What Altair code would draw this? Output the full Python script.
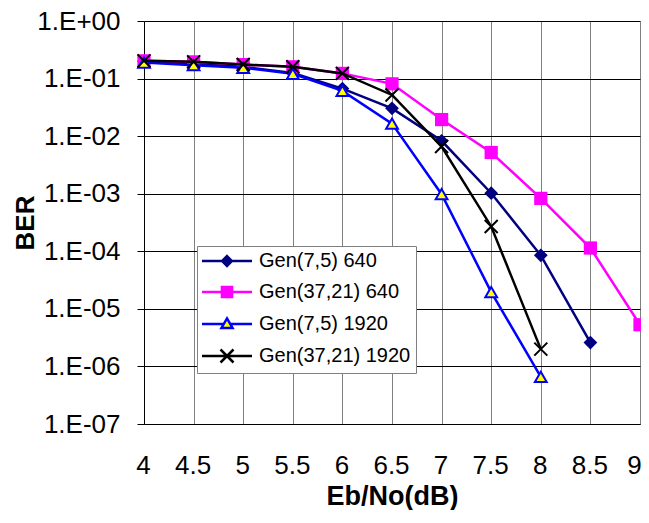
import altair as alt
import pandas as pd

# ---- data ----
ebno = [4, 4.5, 5, 5.5, 6, 6.5, 7, 7.5, 8, 8.5, 9]
series_names = ["Gen(7,5) 640", "Gen(37,21) 640", "Gen(7,5) 1920", "Gen(37,21) 1920"]
ber_75_640 = [0.2, 0.18, 0.16, 0.125, 0.067, 0.0304, 0.0083, 0.00102, 8.5e-5, 2.6e-6]
ber_3721_640 = [0.203, 0.195, 0.175, 0.16, 0.123, 0.081, 0.0194, 0.0052, 8.3e-4, 1.14e-4, 5.3e-6]
ber_75_1920 = [0.19, 0.171, 0.154, 0.121, 0.061, 0.0165, 0.00098, 1.96e-5, 6.6e-7]
ber_3721_1920 = [0.203, 0.195, 0.175, 0.16, 0.123, 0.052, 0.0066, 0.00027, 2.0e-6]
y_ticks = [1e-7, 1e-6, 1e-5, 1e-4, 1e-3, 1e-2, 1e-1, 1.0]
x_ticks = [4, 4.5, 5, 5.5, 6, 6.5, 7, 7.5, 8, 8.5, 9]

# ---- styles ----
line_colors = ["#000080", "#FF00FF", "#0000FF", "#000000"]
fill_colors = ["#000080", "#FF00FF", "#FFFF00", "#000000"]
plot_shapes = ["diamond", "square", "triangle-up", "M-1,-1L1,1M-1,1L1,-1"]
plot_sizes = [190, 175, 140, 169]
plot_filled = [True, True, True, False]
plot_sw = [0, 0, 2, 2]
legend_shapes = [
    "M-3.85,0L3.85,0M0,-0.75L0.75,0L0,0.75L-0.75,0Z",
    "M-3.85,0L3.85,0M-0.78,-0.78L0.78,-0.78L0.78,0.78L-0.78,0.78Z",
    "M-3.85,0L-0.5,0M0.5,0L3.85,0M0,-0.85L0.85,0.6L-0.85,0.6Z",
    "M-3.85,0L3.85,0M-1,-1L1,1M-1,1L1,-1",
]

all_series = [ber_75_640, ber_3721_640, ber_75_1920, ber_3721_1920]
rows = []
for name, vals in zip(series_names, all_series):
    for xv, yv in zip(ebno, vals):
        rows.append({"series": name, "ebno": xv, "ber": yv})
df = pd.DataFrame(rows)

FONT = "Liberation Sans"

x_enc = alt.X(
    "ebno:Q",
    scale=alt.Scale(domain=[4, 9], nice=False, zero=False),
    axis=alt.Axis(
        values=x_ticks, format="~g", grid=True, gridColor="#808080", gridWidth=1,
        domainColor="black", domainWidth=1, ticks=False, tickSize=0,
        labelFontSize=26, labelFont=FONT, labelColor="black", labelPadding=28,
        labelFlush=False, labelOverlap=False,
        labelOffset={"condition": {"test": "datum.value >= 9", "value": -6}, "value": -1},
        title="Eb/No(dB)", titleFontSize=27, titleFont=FONT, titleFontWeight="bold",
        titleColor="black", titleX=248, titleY=80, titleBaseline="alphabetic",
        titleAlign="center",
    ),
)
y_enc = alt.Y(
    "ber:Q",
    scale=alt.Scale(type="log", domain=[1e-7, 1], nice=False),
    axis=alt.Axis(
        values=y_ticks,
        labelExpr="'1.E' + (datum.value >= 1 ? '+00' : '-' + format(round(-log(datum.value)/LN10), '02d'))",
        grid=True, gridColor="black", gridWidth=1,
        domainColor="black", domainWidth=1, ticks=True, tickSize=7, tickColor="black",
        tickWidth=1,
        labelFontSize=26, labelFont=FONT, labelColor="black", labelPadding=17,
        labelOverlap=False,
        title="BER", titleFontSize=26, titleFont=FONT, titleFontWeight="bold",
        titleColor="black", titleAngle=270, titleX=-111, titleY=201.5,
        titleBaseline="alphabetic", titleAlign="center",
    ),
)

base = alt.Chart(df)
layers = []
for i, name in enumerate(series_names):
    sub = base.transform_filter(alt.datum.series == name)
    layers.append(
        sub.mark_line(color=line_colors[i], strokeWidth=2.5).encode(x=x_enc, y=y_enc)
    )
    pt_kwargs = dict(shape=plot_shapes[i], size=plot_sizes[i], opacity=1,
                     filled=plot_filled[i])
    if plot_filled[i]:
        pt_kwargs["fill"] = fill_colors[i]
    if plot_sw[i] > 0:
        pt_kwargs["stroke"] = line_colors[i]
        pt_kwargs["strokeWidth"] = plot_sw[i]
    else:
        pt_kwargs["strokeWidth"] = 0
    layers.append(sub.mark_point(**pt_kwargs).encode(x=x_enc, y=y_enc))

# legend-only layer (no marks drawn, entries from explicit scale domains)
legend_layer = base.transform_filter("false").mark_point(
    size=169, opacity=1, strokeWidth=2.5, filled=False
).encode(
    x=x_enc,
    y=y_enc,
    stroke=alt.Stroke("series:N", title=None,
                      scale=alt.Scale(domain=series_names, range=line_colors)),
    fill=alt.Fill("series:N", title=None,
                  scale=alt.Scale(domain=series_names, range=fill_colors)),
    shape=alt.Shape("series:N", title=None,
                    scale=alt.Scale(domain=series_names, range=legend_shapes)),
)
layers.append(legend_layer)

chart = alt.layer(*layers).properties(
    width=496, height=403,
    autosize=alt.AutoSizeParams(type="none"),
    padding={"left": 136, "top": 13, "right": 1, "bottom": 86},
).configure_view(strokeWidth=0).configure_legend(
    orient="none", legendX=53, legendY=225,
    fillColor="white", strokeColor="#808080", strokeWidth=1, padding=5,
    symbolSize=169, symbolStrokeWidth=2.5, symbolOffset=15, labelOffset=22,
    labelFont=FONT, labelFontSize=20, labelColor="black", rowPadding=10,
    symbolOpacity=1,
)

chart.save("out.html", embed_options={"renderer": "svg", "actions": False})
